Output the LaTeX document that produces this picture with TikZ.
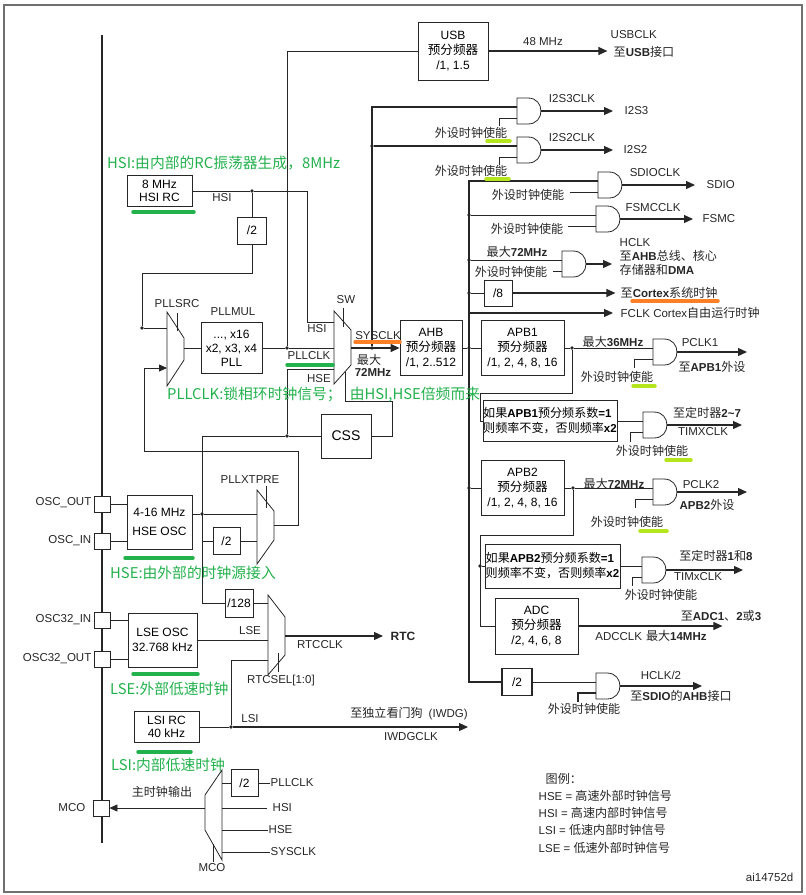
\documentclass[tikz,border=0pt]{standalone}
\usepackage{fontspec}
\setmainfont{Liberation Sans}
\newfontfamily\cjk[Scale=1.05]{Noto Sans CJK SC}
\newfontfamily\notefont{Noto Sans CJK SC}
\usepackage{tikz}
\usetikzlibrary{arrows.meta}
\definecolor{ink}{HTML}{262626}
\definecolor{framegray}{HTML}{707070}
\definecolor{notegreen}{HTML}{22B14C}
\definecolor{noteorange}{HTML}{FF7F27}
\definecolor{notelime}{HTML}{B5E61D}
\newcommand{\zh}[1]{{\cjk #1}}
\newcommand{\pen}{\zh{外设时钟使能}}
\tikzset{
  wire/.style={draw=ink, line width=0.8pt},
  bus/.style={draw=ink, line width=1.7pt},
  sig/.style={draw=ink, line width=1.2pt, -{Triangle[length=9pt,width=8pt]}},
  box/.style={draw=ink, line width=0.8pt, fill=white, align=center, inner sep=0pt, font=\fontsize{12}{15}\selectfont},
  pin/.style={draw=ink, line width=0.8pt, fill=white, minimum size=16pt, inner sep=0pt},
  lab/.style={text=ink, font=\fontsize{11.5}{13.5}\selectfont, inner sep=0.5pt},
  note/.style={text=notegreen, font=\notefont\fontsize{14.8}{16}\selectfont, inner sep=0pt, anchor=west},
  pt/.style={circle, fill=ink, inner sep=1.4pt},
  hl/.style={line width=3.5pt, line cap=round},
  andg/.pic={
    \draw[wire, fill=white] (0,-13) -- (11,-13) .. controls (28.3,-13) and (28.3,13) .. (11,13) -- (0,13) -- cycle;
    \coordinate (-a) at (0,-4);
    \coordinate (-b) at (0,7);
    \coordinate (-o) at (24,0);
  },
}

\begin{document}
\begin{tikzpicture}[x=1pt,y=-1pt]
  \useasboundingbox (0,0) rectangle (806,895);
  \draw[framegray, line width=1.6pt] (4,5) rectangle (802,892);
  \draw[ink, line width=2.4pt] (102,35) -- (102,843);

  % pins and oscillators
  \node[pin] (oscout) at (102,504) {};
  \node[pin] (oscin) at (102,541) {};
  \node[pin] (osc32in) at (102,620) {};
  \node[pin] (osc32out) at (102,659) {};
  \node[pin] (mcopin) at (101,808) {};
  \node[lab, anchor=east] (loscout) at (92,503) {OSC\_OUT};
  \node[lab, anchor=east] (loscin) at (92,541) {OSC\_IN};
  \node[lab, anchor=east] (losc32in) at (92,620) {OSC32\_IN};
  \node[lab, anchor=east] (losc32out) at (92,659) {OSC32\_OUT};
  \node[lab, anchor=east] (lmco) at (86,808) {MCO};

  \node[box, minimum width=65, minimum height=31] (hsirc) at (159.5,191) {8 MHz\\[-2pt]HSI RC};
  \node[box, minimum width=65, minimum height=54] (hseosc) at (159.5,522) {4-16 MHz\\[4pt]HSE OSC};
  \node[box, minimum width=69, minimum height=54] (lseosc) at (162.5,640) {LSE OSC\\32.768 kHz};
  \node[box, minimum width=65, minimum height=31] (lsirc) at (166.5,727) {LSI RC\\[-2pt]40 kHz};
  \draw[wire] (oscout) -- (oscout -| hseosc.west);
  \draw[wire] (oscin) -- (oscin -| hseosc.west);
  \draw[wire] (osc32in) -- (osc32in -| lseosc.west);
  \draw[wire] (osc32out) -- (osc32out -| lseosc.west);

  % muxes
  \draw[wire] (167,312) -- (184,338) -- (184,360) -- (167,386) -- cycle;
  \draw[wire] (177,313) -- (177,331);
  \coordinate (srchsi) at (167,328);
  \coordinate (srchse) at (167,368);
  \coordinate (srcout) at (184,348);
  \draw[wire] (334,311) -- (351,330) -- (351,365) -- (334,384) -- cycle;
  \draw[wire] (343,308) -- (343,327);
  \coordinate (swhsi) at (334,322);
  \coordinate (swpll) at (334,348);
  \coordinate (swhse) at (334,369);
  \coordinate (swout) at (351,348);
  \coordinate (swsel) at (345,372);
  \draw[wire] (257,490) -- (274,511) -- (274,540) -- (257,564) -- cycle;
  \draw[wire] (266,486) -- (266,508);
  \coordinate (xthse) at (257,514);
  \coordinate (xtdiv) at (257,541);
  \coordinate (xtout) at (274,525);
  \draw[wire] (268,595) -- (285,617) -- (285,655) -- (268,675) -- cycle;
  \draw[wire] (278,653) -- (278,672);
  \coordinate (rtc128) at (268,603);
  \coordinate (rtclse) at (268,640);
  \coordinate (rtclsi) at (268,660);
  \coordinate (rtcout) at (285,636);
  \draw[wire] (205,795) -- (222,770) -- (222,860) -- (205,830) -- cycle;
  \draw[wire] (213,844) -- (213,862);
  \coordinate (mcoout) at (205,808);
  \coordinate (mcopll) at (222,783);
  \coordinate (mcohsi) at (222,808);
  \coordinate (mcohse) at (222,830);
  \coordinate (mcosys) at (222,852);

  % HSI, PLL, SW
  \node[box, minimum width=29, minimum height=27] (divhsi) at (252,230.5) {/2};
  \node[pt] (hsidot) at (252,191) {};
  \node[pt] (srcdot) at (142,328) {};
  \draw[wire] (hsirc) -- (hsidot) -- ++(55,0) |- (swhsi);
  \draw[wire] (hsidot) -- (divhsi);
  \draw[wire] (divhsi) -- ++(0,42.5) -| (srcdot);
  \draw[wire] (srcdot) -- (srchsi);
  \node[box, minimum width=61, minimum height=51, font=\fontsize{12}{14}\selectfont] (pll) at (231.5,348) {..., x16\\x2, x3, x4\\PLL};
  \draw[wire] (srcout) -- (pll);
  \node[box, minimum width=70, minimum height=58] (usb) at (453,51) {USB\\\zh{预分频器}\\/1, 1.5};
  \draw[sig] (usb.east) -- ++(119,0);
  \node[pt] (plldot) at (287,348) {};
  \draw[wire] (pll) -- (plldot) -- (swpll);
  \draw[wire] (plldot) |- (usb);
  \node[box, minimum width=50, minimum height=44, font=\fontsize{14}{16}\selectfont] (css) at (346,436) {CSS};
  \node[pt] (cssdot) at (287,436) {};
  \draw[wire] (cssdot) |- (swhse);
  \draw[wire] (cssdot) -- (css);
  \draw[wire] (css) -| (392,401) -| (swsel);

  % HSE, LSE, LSI
  \node[pt] (hsedot) at (202,514) {};
  \node[box, minimum width=27, minimum height=27] (divhse) at (226.5,541) {/2};
  \node[box, minimum width=28, minimum height=28] (div128) at (239,603) {/128};
  \coordinate (hsebr) at (202,541);
  \draw[wire] (cssdot) -| (202,603) -- (div128);
  \draw[wire] (hseosc.east |- hsedot) -- (hsedot) -- (xthse);
  \draw[wire] (hsebr) -- (divhse) -- (xtdiv);
  \draw[wire, -{Triangle[length=8pt,width=7pt]}] (xtout) -| (298,451) -| (144,368) -- (srchse);
  \draw[wire] (div128) -- (rtc128);
  \draw[wire] (lseosc) -- (rtclse);
  \draw[sig] (rtcout) -- ++(98,0);
  \node[pt] (lsidot) at (231,727) {};
  \draw[wire] (lsirc) -- (lsidot);
  \draw[sig] (lsidot) -- ++(237,0);
  \draw[wire] (lsidot) |- (rtclsi);

  % MCO
  \node[box, minimum width=27, minimum height=27] (divmco) at (244.5,783) {/2};
  \node[lab, anchor=west] (lmpll) at (270,783) {PLLCLK};
  \node[lab, anchor=west] (lmhsi) at (272,808) {HSI};
  \node[lab, anchor=west] (lmhse) at (268,830) {HSE};
  \node[lab, anchor=west] (lmsys) at (270,852) {SYSCLK};
  \draw[wire] (mcopll) -- (divmco) -- (lmpll);
  \draw[wire] (mcohsi) -- ++(45,0);
  \draw[wire] (mcohse) -- (lmhse);
  \draw[wire] (mcosys) -- (lmsys);
  \draw[wire, -{Triangle[length=8pt,width=7pt]}] (mcoout) -- (mcopin);

  % AHB and bus
  \node[box, minimum width=62, minimum height=55] (ahb) at (431,348) {AHB\\\zh{预分频器}\\/1, 2..512};
  \node[pt] (sysdot) at (372,348) {};
  \draw[sig] (swout) -- (ahb);
  \pic (gi2s3) at (517,111) {andg};
  \pic (gi2s2) at (517,150) {andg};
  \pic (gsdio) at (598,185) {andg};
  \pic (gfsmc) at (596,219) {andg};
  \pic (ghclk) at (562,264) {andg};
  \pic (gapb1) at (653,352) {andg};
  \pic (gtim1) at (643,425) {andg};
  \pic (gapb2) at (653,492) {andg};
  \pic (gtim2) at (642,570) {andg};
  \pic (ghclk2) at (596,686) {andg};
  \node[pt] (i2sdot) at (372,146) {};
  \draw[bus] (gi2s3-a) -| (sysdot);
  \draw[bus] (i2sdot) -- (gi2s2-a);
  \node[box, minimum width=30, minimum height=27, line width=1.6pt] (div2h) at (517,682) {/2};
  \coordinate (busbot) at (469,682);
  \draw[bus] (gsdio-a) -| (busbot) -- (div2h);
  \node[pt] (fsmcdot) at (469,215) {};
  \node[pt] (hclkdot) at (469,260) {};
  \node[pt] (div8dot) at (469,293) {};
  \coordinate (fclkbr) at (469,313);
  \node[pt] (hdot) at (469,348) {};
  \node[pt] (apb2dot) at (469,488) {};
  \node[box, minimum width=28, minimum height=26] (div8) at (498,293) {/8};
  \draw[wire] (fsmcdot) -- (gfsmc-a);
  \draw[wire] (hclkdot) -- (ghclk-a);
  \draw[wire] (div8dot) -- (div8);
  \draw[sig] (div8.east) -- ++(103,0);
  \draw[sig] (fclkbr) -- ++(144,0);
  \draw[wire] (div2h) -- (ghclk2-a);

  % APB1 / APB2 / ADC
  \node[box, minimum width=83, minimum height=55] (apb1) at (522.5,348) {APB1\\\zh{预分频器}\\/1, 2, 4, 8, 16};
  \node[pt] (p1dot) at (572,348) {};
  \draw[wire] (ahb) -- (hdot) -- (apb1);
  \draw[wire] (apb1) -- (p1dot) -- (gapb1-a);
  \node[box, minimum width=134, minimum height=41, align=left, font=\fontsize{11.5}{15}\selectfont] (tim1box) at (550,421) {\zh{如果}\textbf{APB1}\zh{预分频系数}\textbf{=1}\\\zh{则频率不变，否则频率}\textbf{x2}};
  \draw[wire] (p1dot) |- (480,393) |- (tim1box);
  \draw[wire] (tim1box) -- (gtim1-a);
  \node[box, minimum width=83, minimum height=55] (apb2) at (522.5,488) {APB2\\\zh{预分频器}\\/1, 2, 4, 8, 16};
  \node[pt] (p2dot) at (573,488) {};
  \draw[wire] (apb2dot) -- (apb2);
  \draw[wire] (apb2) -- (p2dot) -- (gapb2-a);
  \node[box, minimum width=135, minimum height=44, align=left, font=\fontsize{11.5}{15}\selectfont] (tim2box) at (552.5,566) {\zh{如果}\textbf{APB2}\zh{预分频系数}\textbf{=1}\\\zh{则频率不变，否则频率}\textbf{x2}};
  \node[box, minimum width=83, minimum height=56] (adc) at (536.5,626) {ADC\\\zh{预分频器}\\/2, 4, 6, 8};
  \node[pt] (timdot2) at (480,566) {};
  \draw[wire] (p2dot) |- (480,535) |- (adc);
  \draw[wire] (timdot2) -- (tim2box);
  \draw[wire] (tim2box) -- (gtim2-a);
  \draw[sig] (adc.east) -- ++(144,0);

  % gate outputs and enables
  \draw[sig] (gi2s3-o) -- ++(72,0);
  \draw[sig] (gi2s2-o) -- ++(72,0);
  \draw[sig] (gsdio-o) -- ++(73,0);
  \draw[sig] (gfsmc-o) -- ++(73,0);
  \draw[sig] (ghclk-o) -- ++(26,0);
  \draw[sig] (gapb1-o) -- ++(70,0);
  \draw[sig] (gtim1-o) -- ++(75,0);
  \draw[sig] (gapb2-o) -- ++(70,0);
  \draw[sig] (gtim2-o) -- ++(77,0);
  \draw[sig] (ghclk2-o) -- ++(82,0);
  \draw[wire] (gi2s3-b) -| ++(-18,8);
  \draw[wire] (gi2s2-b) -| ++(-18,8);
  \draw[wire] (gsdio-b) -- ++(-28,0);
  \draw[wire] (gfsmc-b) -- ++(-28,0);
  \draw[wire] (ghclk-b) -- ++(-9,0);
  \draw[wire] (gapb1-b) -| ++(-19,9);
  \draw[wire] (gtim1-b) -| ++(-13,10);
  \draw[wire] (gapb2-b) -| ++(-18,9);
  \draw[wire] (gtim2-b) -| ++(-10,9);
  \draw[wire, line width=1.3pt] (ghclk2-b) -| ++(-18,9);

  % labels
  \node[lab] (lhsi) at (222,198) {HSI};
  \node[lab] (lpllsrc) at (177,304) {PLLSRC};
  \node[lab] (lpllmul) at (233,312) {PLLMUL};
  \node[lab] (lsw) at (346,300) {SW};
  \node[lab] (lswhsi) at (317,329) {HSI};
  \node[lab] (lswpll) at (309,356) {PLLCLK};
  \node[lab] (lswhse) at (319,379) {HSE};
  \node[lab] (lsysclk) at (378,336) {SYSCLK};
  \node[lab] (lmax1) at (369,360) {\zh{最大}};
  \node[lab, font=\fontsize{11.5}{13}\selectfont\bfseries] (lmax2) at (373,372) {72MHz};
  \node[lab] (lxtpre) at (250,480) {PLLXTPRE};
  \node[lab] (llse) at (250,631) {LSE};
  \node[lab] (lrtcclk) at (320,645) {RTCCLK};
  \node[lab, anchor=west, font=\fontsize{12}{14}\selectfont\bfseries] (lrtc) at (390,636) {RTC};
  \node[lab] (lrtcsel) at (281,681) {RTCSEL[1:0]};
  \node[lab] (llsi) at (250,719) {LSI};
  \node[lab] (liwdg) at (409,714) {\zh{至独立看门狗}\hspace{6pt}(IWDG)};
  \node[lab] (liwdgclk) at (411,737) {IWDGCLK};
  \node[lab] (lmcoout) at (162,792) {\zh{主时钟输出}};
  \node[lab] (lmcosel) at (212,868) {MCO};

  \node[lab] (l48) at (543,42) {48 MHz};
  \node[lab, anchor=west] (lusbclk) at (610,35) {USBCLK};
  \node[lab, anchor=west] (lusbif) at (613,52) {\zh{至}\textbf{USB}\zh{接口}};
  \node[lab] (li2s3clk) at (572,99) {I2S3CLK};
  \node[lab, anchor=west] (li2s3) at (624,111) {I2S3};
  \node[lab] (li2s2clk) at (572,138) {I2S2CLK};
  \node[lab, anchor=west] (li2s2) at (623,150) {I2S2};
  \node[lab] (ensi3) at (471,133) {\pen};
  \node[lab] (ensi2) at (471,171) {\pen};
  \node[lab] (lsdioclk) at (655,173) {SDIOCLK};
  \node[lab, anchor=west] (lsdio) at (706,185) {SDIO};
  \node[lab] (ensdio) at (528,195) {\pen};
  \node[lab] (lfsmcclk) at (653,208) {FSMCCLK};
  \node[lab, anchor=west] (lfsmc) at (702,219) {FSMC};
  \node[lab] (enfsmc) at (527,229) {\pen};
  \node[lab] (lmax72a) at (517,252) {\zh{最大}\textbf{72MHz}};
  \node[lab] (enhclk) at (511,272) {\pen};
  \node[lab, anchor=west] (lhclk) at (619,243) {HCLK};
  \node[lab, anchor=west] (lhclk2) at (619,256) {\zh{至}\textbf{AHB}\zh{总线、核心}};
  \node[lab, anchor=west] (lhclk3) at (619,270) {\zh{存储器和}\textbf{DMA}};
  \node[lab, anchor=west] (lcortex) at (620,293) {\zh{至}\textbf{Cortex}\zh{系统时钟}};
  \node[lab, anchor=west] (lfclk) at (620,313) {FCLK Cortex\zh{自由运行时钟}};
  \node[lab] (lmax36) at (613,342) {\zh{最大}\textbf{36MHz}};
  \node[lab] (lpclk1) at (700,343) {PCLK1};
  \node[lab] (lapb1per) at (712,367) {\zh{至}\textbf{APB1}\zh{外设}};
  \node[lab] (enapb1) at (617,377) {\pen};
  \node[lab] (ltim27) at (707,413) {\zh{至定时器}\textbf{2\textasciitilde 7}};
  \node[lab] (ltimx1) at (703,432) {TIMXCLK};
  \node[lab] (entim1) at (652,451) {\pen};
  \node[lab] (lmax72b) at (614,484) {\zh{最大}\textbf{72MHz}};
  \node[lab] (lpclk2) at (701,485) {PCLK2};
  \node[lab] (lapb2per) at (707,505) {\textbf{APB2}\zh{外设}};
  \node[lab] (enapb2) at (627,522) {\pen};
  \node[lab] (ltim18) at (716,556) {\zh{至定时器}\textbf{1}\zh{和}\textbf{8}};
  \node[lab] (ltimx2) at (698,577) {TIMxCLK};
  \node[lab] (entim2) at (661,595) {\pen};
  \node[lab] (ladc) at (721,616) {\zh{至}\textbf{ADC1}\zh{、}\textbf{2}\zh{或}\textbf{3}};
  \node[lab] (ladcclk) at (651,636) {ADCCLK\hspace{4pt}\zh{最大}\textbf{14MHz}};
  \node[lab] (lhclkh) at (661,675) {HCLK/2};
  \node[lab] (lsdioahb) at (681,696) {\zh{至}\textbf{SDIO}\zh{的}\textbf{AHB}\zh{接口}};
  \node[lab] (enhclk2) at (584,709) {\pen};

  \node[lab, anchor=west] (lleg) at (545,779) {\zh{图例：}};
  \node[lab, anchor=west] (lleg1) at (538,796) {HSE = \zh{高速外部时钟信号}};
  \node[lab, anchor=west] (lleg2) at (538,813) {HSI = \zh{高速内部时钟信号}};
  \node[lab, anchor=west] (lleg3) at (538,830) {LSI = \zh{低速内部时钟信号}};
  \node[lab, anchor=west] (lleg4) at (538,848) {LSE = \zh{低速外部时钟信号}};
  \node[lab, anchor=east] (lai) at (794,877) {ai14752d};

  % notes
  \node[note] (nhsi) at (107,163) {HSI:由内部的RC振荡器生成，8MHz};
  \node[note] (npll) at (167,395) {PLLCLK:锁相环时钟信号；\hspace{8pt}由HSI,HSE倍频而来};
  \node[note] (nhse) at (110,573) {HSE:由外部的时钟源接入};
  \node[note] (nlse) at (110,689) {LSE:外部低速时钟};
  \node[note] (nlsi) at (111,765) {LSI:内部低速时钟};
  \draw[hl, notegreen] (133,212) -- (194,212);
  \draw[hl, notegreen] (287,365) -- (333,365);
  \draw[hl, notegreen] (125,558) -- (193,558);
  \draw[hl, notegreen] (133,674) -- (198,674);
  \draw[hl, notegreen] (138,752) -- (191,752);
  \draw[hl, noteorange] (355,342) -- (400,342);
  \draw[hl, noteorange] (632,301) -- (718,301);
  \draw[hl, notelime] (487,141) -- (510,141);
  \draw[hl, notelime] (486,179) -- (509,179);
  \draw[hl, notelime] (633,386) -- (655,386);
  \draw[hl, notelime] (666,460) -- (691,460);
  \draw[hl, notelime] (640,531) -- (667,531);
\end{tikzpicture}
\end{document}
